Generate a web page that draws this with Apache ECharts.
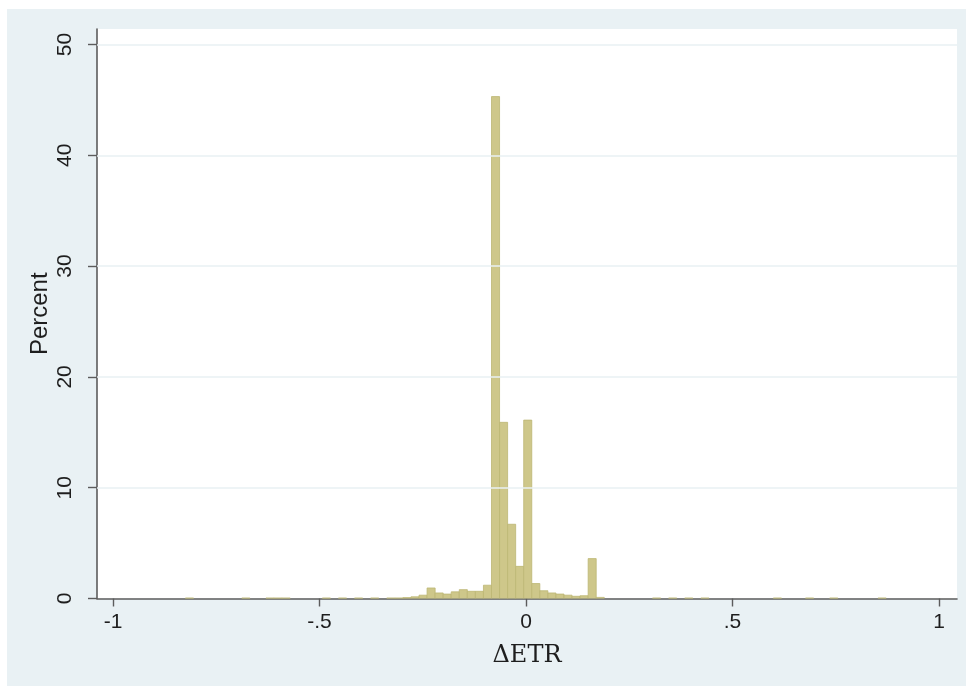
<!DOCTYPE html>
<html>
<head>
<meta charset="utf-8">
<script src="https://cdn.jsdelivr.net/npm/echarts@6/dist/echarts.min.js"></script>
<style>
  html, body { margin: 0; padding: 0; background: #ffffff; overflow: hidden; }
  #chart { position: absolute; left: 7px; top: 9px; width: 959px; height: 677px; }
</style>
</head>
<body>
<div id="chart"></div>
<script>
// Histogram of the change in effective tax rate (ΔETR), percent of observations per bin
const binWidth = 0.0195;
const binLeft = [
  -0.8245, -0.688, -0.6295, -0.61, -0.5905, -0.493, -0.454, -0.415, -0.376, -0.337,
  -0.3175, -0.298, -0.2785, -0.259, -0.2395, -0.22, -0.2005, -0.181, -0.1615, -0.142,
  -0.1225, -0.103, -0.0835, -0.064, -0.0445, -0.025, -0.0055, 0.014, 0.0335, 0.053,
  0.0725, 0.092, 0.1115, 0.131, 0.1505, 0.17, 0.3065, 0.3455, 0.3845, 0.4235,
  0.599, 0.677, 0.7355, 0.8525
];
const binPercent = [
  0.05, 0.05, 0.05, 0.05, 0.05, 0.05, 0.05, 0.05, 0.05, 0.05,
  0.05, 0.08, 0.15, 0.3, 0.95, 0.5, 0.4, 0.6, 0.8, 0.65,
  0.65, 1.2, 45.3, 15.9, 6.7, 2.9, 16.1, 1.35, 0.7, 0.5,
  0.4, 0.3, 0.2, 0.25, 3.6, 0.1, 0.05, 0.05, 0.05, 0.05,
  0.05, 0.05, 0.05, 0.05
];

const xTickValues = [-1, -0.5, 0, 0.5, 1];
const xTickLabels = ['-1', '-.5', '0', '.5', '1'];
const yTickValues = [0, 10, 20, 30, 40, 50];

const xTitle = 'ΔETR';
const yTitle = 'Percent';

const bins = binLeft.map((x0, i) => [x0, x0 + binWidth, binPercent[i]]);

const axisColor = '#5c5c5c';
const labelFont = { fontFamily: 'Liberation Sans, Arial, sans-serif', fontSize: 21, color: '#1e1e1e' };

const chart = echarts.init(document.getElementById('chart'), null, { renderer: 'canvas' });
chart.setOption({
  backgroundColor: '#e9f1f4',
  animation: false,
  grid: {
    left: 90, top: 20, right: 9, bottom: 87.5,
    show: true, backgroundColor: '#ffffff', borderWidth: 0
  },
  xAxis: {
    type: 'value',
    min: -1.0387, max: 1.0436,
    name: xTitle,
    nameLocation: 'middle',
    nameGap: 45,
    nameMoveOverlap: false,
    nameTextStyle: { fontFamily: 'DejaVu Serif, Liberation Serif, serif', fontSize: 24, color: '#1e1e1e' },
    axisLine: { onZero: false, lineStyle: { color: axisColor, width: 1.6 } },
    axisTick: { customValues: xTickValues, length: 8, lineStyle: { color: axisColor, width: 1.4 } },
    axisLabel: {
      customValues: xTickValues,
      margin: 13,
      formatter: v => xTickLabels[xTickValues.indexOf(v)],
      ...labelFont
    },
    splitLine: { show: false }
  },
  yAxis: {
    type: 'value',
    min: 0, max: 51.4,
    name: yTitle,
    nameLocation: 'middle',
    nameRotate: 90,
    nameGap: 45,
    nameMoveOverlap: false,
    nameTextStyle: { fontFamily: 'Liberation Sans, Arial, sans-serif', fontSize: 24, color: '#1e1e1e' },
    axisLine: { show: true, onZero: false, lineStyle: { color: axisColor, width: 1.6 } },
    axisTick: { show: true, customValues: yTickValues, length: 9, lineStyle: { color: axisColor, width: 1.4 } },
    axisLabel: {
      customValues: yTickValues,
      rotate: 90,
      margin: 21,
      ...labelFont
    },
    splitLine: { show: false }
  },
  series: [
    {
      type: 'custom',
      data: bins,
      encode: { x: [0, 1], y: 2 },
      clip: true,
      z: 3,
      renderItem: function (params, api) {
        const p0 = api.coord([api.value(0), 0]);
        const p1 = api.coord([api.value(1), api.value(2)]);
        return {
          type: 'rect',
          shape: { x: p0[0], y: p1[1], width: p1[0] - p0[0], height: p0[1] - p1[1] },
          style: { fill: '#cec78a', stroke: '#bdb674', lineWidth: 0.8 }
        };
      }
    },
    {
      // horizontal reference lines at the labelled percent levels
      type: 'line',
      data: [],
      z: 1,
      silent: true,
      markLine: {
        symbol: 'none',
        silent: true,
        label: { show: false },
        lineStyle: { color: '#e8f0f3', width: 1.5, type: 'solid' },
        data: yTickValues.filter(v => v > 0).map(v => ({ yAxis: v }))
      }
    }
  ]
});
</script>
</body>
</html>
